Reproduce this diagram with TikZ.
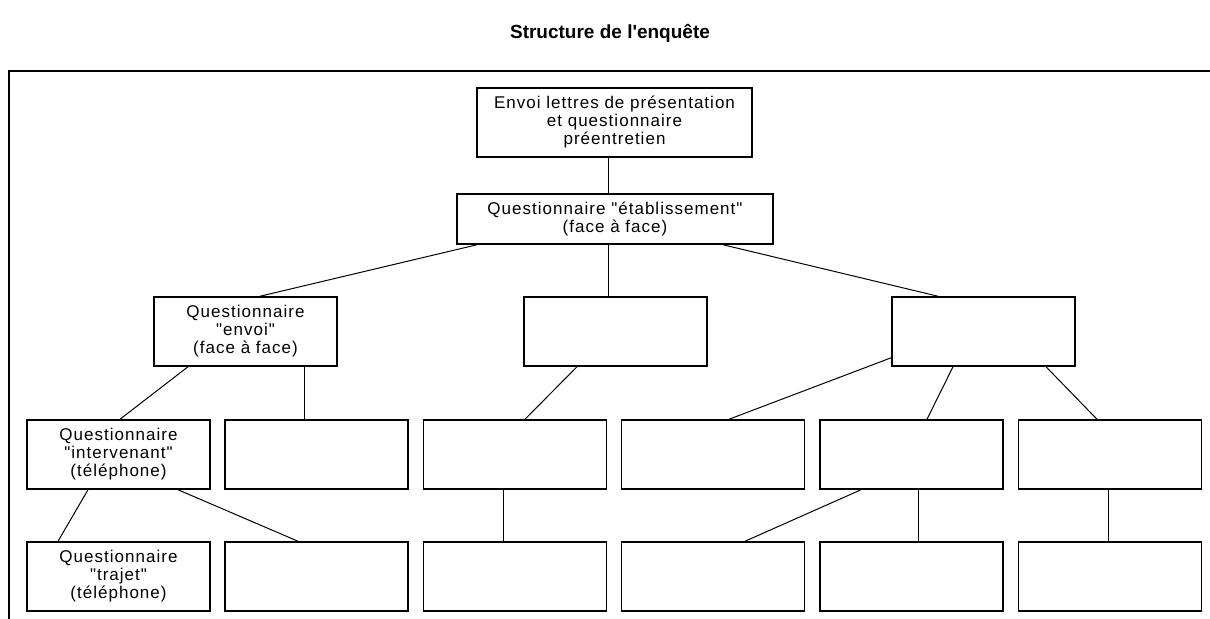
\documentclass[tikz,border=0pt]{standalone}
\usepackage{fontspec}
\setmainfont{Liberation Sans}
\newfontfamily\boxfont[LetterSpace=6]{Liberation Sans}
\usetikzlibrary{positioning}

\begin{document}
\begin{tikzpicture}[x=0.5pt, y=-0.5pt,
    box/.style={draw, line width=0.75pt, minimum width=91.5pt, minimum height=34.5pt,
      inner sep=0pt, align=center, font=\boxfont\fontsize{8.5pt}{9pt}\selectfont},
    link/.style={line width=0.5pt}]
  \useasboundingbox (0,0) rectangle (1210,619);

  % Title and frame
  \node (title) at (610,33) {\fontsize{9.5pt}{11pt}\selectfont\bfseries Structure de l\textquotesingle enquête};
  \draw[line width=0.75pt] (1210,71) -- (9,71) -- (9,619);

  % Top levels
  \node[box, minimum width=137.5pt] (lettres) at (614.5,122.5) {Envoi lettres de présentation\\et questionnaire\\préentretien};
  \node[box, minimum width=158pt, minimum height=25pt] (etab) at (615,219) {Questionnaire "établissement"\\(face à face)};

  \node[box] (envoi) at (245.5,331.5) {Questionnaire\\"envoi"\\(face à face)};
  \node[box] (mid) at (615.5,331.5) {};
  \node[box] (right) at (983.5,331.5) {};

  % Third level
  \node[box] (interv) at (118.5,454.5) {Questionnaire\\"intervenant"\\(téléphone)};
  \node[box] (l3b) at (316.5,454.5) {};
  \node[box] (l3c) at (515,454.5) {};
  \node[box] (l3d) at (713,454.5) {};
  \node[box] (l3e) at (911.5,454.5) {};
  \node[box] (l3f) at (1110,454.5) {};

  % Bottom level
  \node[box] (trajet) at (118.5,576.5) {Questionnaire\\"trajet"\\(téléphone)};
  \node[box] (l4b) at (316.5,576.5) {};
  \node[box] (l4c) at (515,576.5) {};
  \node[box] (l4d) at (713,576.5) {};
  \node[box] (l4e) at (911.5,576.5) {};
  \node[box] (l4f) at (1110,576.5) {};

  % Links
  \draw[link] ([xshift=-3.25pt]lettres.south) -- ([xshift=-3.5pt]etab.north);
  \draw[link] ([xshift=-69pt]etab.south) -- ([xshift=7.25pt]envoi.north);
  \draw[link] ([xshift=-3.5pt]etab.south) -- ([xshift=-3.75pt]mid.north);
  \draw[link] ([xshift=54pt]etab.south) -- ([xshift=-22.75pt]right.north);

  \draw[link] ([xshift=-28.75pt]envoi.south) -- ([xshift=0.75pt]interv.north);
  \draw[link] ([xshift=29.25pt]envoi.south) -- ([xshift=-6.25pt]l3b.north);
  \draw[link] ([xshift=-19.25pt]mid.south) -- ([xshift=5pt]l3c.north);
  \draw[link] ([yshift=4.5pt]right.south west) -- ([xshift=8pt]l3d.north);
  \draw[link] ([xshift=-15.25pt]right.south) -- ([xshift=7.75pt]l3e.north);
  \draw[link] ([xshift=31.25pt]right.south) -- ([xshift=-6.5pt]l3f.north);

  \draw[link] ([xshift=-15.25pt]interv.south) -- ([xshift=-30.25pt]trajet.north);
  \draw[link] ([xshift=29.75pt]interv.south) -- ([xshift=-9.25pt]l4b.north);
  \draw[link] ([xshift=-6pt]l3c.south) -- ([xshift=-6pt]l4c.north);
  \draw[link] ([xshift=-25.25pt]l3e.south) -- ([xshift=16pt]l4d.north);
  \draw[link] ([xshift=3.25pt]l3e.south) -- ([xshift=3.25pt]l4e.north);
  \draw[link] ([xshift=-1pt]l3f.south) -- ([xshift=-1pt]l4f.north);
\end{tikzpicture}
\end{document}
